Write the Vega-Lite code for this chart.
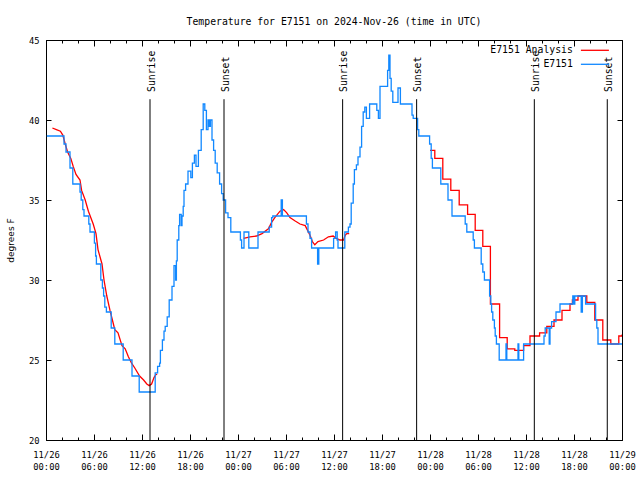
{
  "$schema": "https://vega.github.io/schema/vega-lite/v6.json",
  "width": 576,
  "height": 400,
  "autosize": {"type": "none"},
  "padding": {"left": 46, "top": 40, "right": 18, "bottom": 40},
  "background": "white",
  "title": {"text": "Temperature for E7151 on 2024-Nov-26 (time in UTC)", "font": "DejaVu Sans Mono", "fontSize": 9.8, "fontWeight": "normal", "color": "black", "anchor": "middle", "frame": "group", "offset": 1, "baseline": "alphabetic"},
  "config": {
    "view": {"stroke": "black", "strokeWidth": 1},
    "axis": {"grid": false, "domain": false, "tickColor": "black", "tickWidth": 1, "labelColor": "black", "labelFont": "DejaVu Sans Mono", "labelFontSize": 8.8, "labelFlush": false, "labelOverlap": false, "labelBound": false}
  },
  "datasets": {
    "ana": [
      {"h":0.8,"t":39.5,"seg":1},{"h":1.3,"t":39.4,"seg":1},{"h":1.8,"t":39.3,"seg":1},{"h":2.1,"t":39.06,"seg":1},{"h":2.4,"t":38.5,"seg":1},{"h":2.7,"t":38.0,"seg":1},{"h":3.1,"t":37.6,"seg":1},{"h":3.4,"t":37.1,"seg":1},{"h":3.75,"t":36.6,"seg":1},{"h":4.25,"t":36.25,"seg":1},{"h":4.45,"t":35.6,"seg":1},{"h":4.9,"t":35.0,"seg":1},{"h":5.3,"t":34.3,"seg":1},{"h":5.9,"t":33.5,"seg":1},{"h":6.25,"t":32.9,"seg":1},{"h":6.5,"t":31.9,"seg":1},{"h":7.0,"t":31.0,"seg":1},{"h":7.25,"t":30.0,"seg":1},{"h":7.6,"t":29.0,"seg":1},{"h":8.0,"t":28.1,"seg":1},{"h":8.3,"t":27.5,"seg":1},{"h":8.6,"t":26.9,"seg":1},{"h":9.0,"t":26.7,"seg":1},{"h":9.5,"t":25.9,"seg":1},{"h":9.9,"t":25.7,"seg":1},{"h":10.3,"t":25.2,"seg":1},{"h":10.7,"t":24.8,"seg":1},{"h":11.1,"t":24.5,"seg":1},{"h":11.7,"t":24.0,"seg":1},{"h":12.2,"t":23.75,"seg":1},{"h":12.6,"t":23.5,"seg":1},{"h":12.9,"t":23.4,"seg":1},{"h":13.2,"t":23.5,"seg":1},{"h":13.5,"t":23.9,"seg":1},{"h":13.75,"t":24.1,"seg":1},{"h":13.9,"t":24.1,"seg":1},
      {"h":24.7,"t":32.6,"seg":2},{"h":25.5,"t":32.7,"seg":2},{"h":26.3,"t":32.75,"seg":2},{"h":27.0,"t":32.9,"seg":2},{"h":27.8,"t":33.2,"seg":2},{"h":28.2,"t":33.6,"seg":2},{"h":28.6,"t":33.9,"seg":2},{"h":29.25,"t":34.3,"seg":2},{"h":29.7,"t":34.4,"seg":2},{"h":30.1,"t":34.2,"seg":2},{"h":30.5,"t":33.9,"seg":2},{"h":31.1,"t":33.7,"seg":2},{"h":31.75,"t":33.5,"seg":2},{"h":32.4,"t":33.4,"seg":2},{"h":32.7,"t":33.1,"seg":2},{"h":33.0,"t":32.8,"seg":2},{"h":33.3,"t":32.4,"seg":2},{"h":33.6,"t":32.2,"seg":2},{"h":34.0,"t":32.4,"seg":2},{"h":34.7,"t":32.5,"seg":2},{"h":35.3,"t":32.7,"seg":2},{"h":35.9,"t":32.75,"seg":2},{"h":36.3,"t":32.6,"seg":2},{"h":36.75,"t":32.5,"seg":2},{"h":37.2,"t":32.5,"seg":2},{"h":37.4,"t":32.8,"seg":2},{"h":37.6,"t":32.9,"seg":2},{"h":37.9,"t":32.9,"seg":2},
      {"h":48.0,"t":38.1,"seg":3},{"h":48.6,"t":37.6,"seg":3},{"h":49.6,"t":36.3,"seg":3},{"h":50.6,"t":35.6,"seg":3},{"h":51.65,"t":34.7,"seg":3},{"h":52.7,"t":34.1,"seg":3},{"h":53.65,"t":33.1,"seg":3},{"h":54.6,"t":32.1,"seg":3},{"h":55.55,"t":28.5,"seg":3},{"h":56.7,"t":26.4,"seg":3},{"h":57.65,"t":25.7,"seg":3},{"h":58.6,"t":25.6,"seg":3},{"h":59.7,"t":25.9,"seg":3},{"h":60.5,"t":26.5,"seg":3},{"h":61.7,"t":26.7,"seg":3},{"h":62.6,"t":27.1,"seg":3},{"h":63.5,"t":27.5,"seg":3},{"h":64.5,"t":28.1,"seg":3},{"h":65.5,"t":28.5,"seg":3},{"h":65.8,"t":28.75,"seg":3},{"h":66.5,"t":29.0,"seg":3},{"h":67.6,"t":28.6,"seg":3},{"h":68.6,"t":27.5,"seg":3},{"h":69.6,"t":26.25,"seg":3},{"h":70.6,"t":26.0,"seg":3},{"h":71.6,"t":26.5,"seg":3},{"h":72,"t":26.6,"seg":3}
    ],
    "obs": [
      {"h":0.1,"t":39},{"h":2.25,"t":38.5},{"h":2.5,"t":38},{"h":3.0,"t":37},{"h":3.35,"t":36},{"h":4.25,"t":35.5},{"h":4.4,"t":35},{"h":4.6,"t":34.4},{"h":4.75,"t":34},{"h":5.35,"t":33.5},{"h":5.5,"t":33},{"h":6.05,"t":32.3},{"h":6.2,"t":31.5},{"h":6.3,"t":31},{"h":6.85,"t":30},{"h":7.05,"t":29.5},{"h":7.2,"t":29},{"h":7.35,"t":28.3},{"h":7.55,"t":28},{"h":8.15,"t":27},{"h":8.6,"t":26},{"h":9.65,"t":25},{"h":10.75,"t":24},{"h":11.65,"t":23},
      {"h":13.65,"t":24.2},{"h":13.95,"t":24.6},{"h":14.2,"t":24.8},{"h":14.3,"t":25.6},{"h":14.55,"t":26.25},{"h":14.75,"t":26.8},{"h":14.9,"t":27.1},{"h":15.15,"t":27.7},{"h":15.4,"t":28.75},{"h":15.75,"t":29.6},{"h":16.0,"t":30.9},{"h":16.2,"t":30.0},{"h":16.3,"t":31.2},{"h":16.4,"t":32.5},{"h":16.6,"t":33.4},{"h":16.7,"t":34.1},{"h":16.9,"t":33.4},{"h":17.0,"t":34.0},{"h":17.15,"t":34.6},{"h":17.25,"t":35.6},{"h":17.45,"t":36},{"h":17.75,"t":36.8},{"h":18.1,"t":36.4},{"h":18.3,"t":37.3},{"h":18.55,"t":37.8},{"h":18.75,"t":37.1},{"h":19.05,"t":38.1},{"h":19.4,"t":39.4},{"h":19.65,"t":41.0},{"h":19.85,"t":40.6},{"h":20.05,"t":39.4},{"h":20.25,"t":40},{"h":20.4,"t":39.6},{"h":20.55,"t":40},{"h":20.75,"t":38.75},{"h":20.95,"t":38.1},{"h":21.15,"t":37.3},{"h":21.4,"t":36.7},{"h":21.7,"t":36.0},{"h":21.95,"t":35.4},{"h":22.15,"t":35.0},{"h":22.45,"t":34.2},{"h":22.75,"t":33.9},{"h":23.1,"t":33},
      {"h":24.3,"t":32.5},{"h":24.45,"t":32},{"h":24.75,"t":33},{"h":25.35,"t":32},{"h":26.5,"t":33},{"h":27.9,"t":33.3},{"h":28.2,"t":33.9},{"h":28.35,"t":34},{"h":29.4,"t":35},{"h":29.55,"t":34},{"h":32.55,"t":33.5},{"h":32.75,"t":33},{"h":33.0,"t":32.6},{"h":33.2,"t":32},{"h":33.95,"t":31},{"h":34.1,"t":32},{"h":35.95,"t":32.6},{"h":36.2,"t":33},{"h":36.4,"t":32.5},{"h":36.5,"t":32},{"h":37.35,"t":33},{"h":37.8,"t":33.3},{"h":38.0,"t":33.5},{"h":38.15,"t":34.8},{"h":38.4,"t":36.0},{"h":38.55,"t":36.9},{"h":38.8,"t":37.2},{"h":39.0,"t":37.7},{"h":39.25,"t":38.3},{"h":39.45,"t":39.6},{"h":39.65,"t":40.5},{"h":39.85,"t":40.8},{"h":40.05,"t":40.1},{"h":40.45,"t":41.0},{"h":41.35,"t":40.6},{"h":41.55,"t":40.1},{"h":41.75,"t":42.1},{"h":42.7,"t":43.1},{"h":42.85,"t":44.06},{"h":43.0,"t":42.6},{"h":43.15,"t":41.8},{"h":43.35,"t":41.1},{"h":44.0,"t":42},{"h":44.3,"t":41},{"h":45.75,"t":40.3},{"h":45.9,"t":40.1},{"h":46.45,"t":39.4},{"h":46.6,"t":39},{"h":47.95,"t":38.5},{"h":48.15,"t":37.6},{"h":48.3,"t":37},{"h":49.35,"t":36},{"h":50.25,"t":35},{"h":50.75,"t":34},{"h":52.4,"t":33.5},{"h":52.6,"t":33},{"h":53.4,"t":32.5},{"h":53.55,"t":32},{"h":54.4,"t":31},{"h":54.6,"t":30.5},{"h":54.8,"t":30},{"h":55.45,"t":29},{"h":55.6,"t":28.5},{"h":55.7,"t":28},{"h":55.85,"t":27.5},{"h":56.05,"t":27},{"h":56.15,"t":26.5},{"h":56.3,"t":26},{"h":56.65,"t":25},{"h":57.5,"t":26},{"h":57.6,"t":25},{"h":59.0,"t":26},{"h":59.1,"t":25},{"h":59.7,"t":26},{"h":62.25,"t":26.5},{"h":62.4,"t":27},{"h":62.9,"t":26},{"h":63.0,"t":27},{"h":63.2,"t":27.4},{"h":63.75,"t":28},{"h":64.25,"t":28.5},{"h":65.85,"t":29},{"h":66.0,"t":28.5},{"h":66.1,"t":29},{"h":66.9,"t":28},{"h":67.05,"t":29},{"h":67.45,"t":28.5},{"h":68.7,"t":27.5},{"h":68.85,"t":27},{"h":69.0,"t":26},{"h":72,"t":26}
    ],
    "sun": [
      {"h":13.0,"label":"Sunrise"},{"h":22.25,"label":"Sunset"},{"h":37.08,"label":"Sunrise"},{"h":46.33,"label":"Sunset"},{"h":61.04,"label":"Sunrise"},{"h":70.16,"label":"Sunset"}
    ]
  },
  "layer": [
    {
      "data": {"name": "ana"},
      "transform": [{"filter": "datum.seg < 3"}],
      "mark": {"type": "line", "interpolate": "linear", "strokeWidth": 1.3, "clip": true},
      "encoding": {
        "x": {"field": "h", "type": "quantitative", "scale": {"domain": [0, 72], "nice": false, "zero": false},
          "axis": {"orient": "bottom", "values": [0,6,12,18,24,30,36,42,48,54,60,66,72], "ticks": false, "labelPadding": 10.5, "labelLineHeight": 12, "labelBaseline": "top",
            "labelExpr": "['11/' + (26 + floor(datum.value / 24)), ((datum.value % 24) < 10 ? '0' : '') + (datum.value % 24) + ':00']", "title": null}},
        "y": {"field": "t", "type": "quantitative", "scale": {"domain": [20, 45], "nice": false, "zero": false},
          "axis": {"orient": "left", "values": [20,25,30,35,40,45], "ticks": false, "labelPadding": 7, "title": "degrees F", "titleFont": "DejaVu Sans", "titleFontSize": 9, "titleFontWeight": "normal", "titleColor": "black", "titlePadding": 13}},
        "detail": {"field": "seg", "type": "nominal"},
        "color": {"datum": "E7151 Analysis", "type": "nominal",
          "scale": {"domain": ["E7151 Analysis", "E7151"], "range": ["#ff0000", "#1188ff"]},
          "legend": {"orient": "none", "legendX": 544, "legendY": 5.4, "title": null, "symbolType": "M-4,0H4", "symbolSize": 49, "symbolStrokeWidth": 1.3, "labelAlign": "right", "labelOffset": -26.9, "labelFont": "DejaVu Sans Mono", "labelFontSize": 9.8, "labelColor": "black", "padding": 0, "rowPadding": 3, "symbolOffset": 0, "labelLimit": 300}}
      }
    },
    {
      "data": {"name": "ana"},
      "transform": [{"filter": "datum.seg == 3"}],
      "mark": {"type": "line", "interpolate": "step-after", "strokeWidth": 1.3, "clip": true},
      "encoding": {
        "x": {"field": "h", "type": "quantitative", "axis": {"orient": "bottom", "values": [0,2,4,6,8,10,12,14,16,18,20,22,24,26,28,30,32,34,36,38,40,42,44,46,48,50,52,54,56,58,60,62,64,66,68,70,72], "tickSize": -3, "labels": false, "title": null}},
        "y": {"field": "t", "type": "quantitative", "axis": {"orient": "right", "values": [20,25,30,35,40,45], "tickSize": -5, "labels": false, "title": null}},
        "color": {"datum": "E7151 Analysis", "type": "nominal"}
      }
    },
    {
      "data": {"name": "obs"},
      "mark": {"type": "line", "interpolate": "step-after", "strokeWidth": 1.3, "clip": true},
      "encoding": {
        "x": {"field": "h", "type": "quantitative", "axis": {"orient": "top", "values": [0,2,4,6,8,10,12,14,16,18,20,22,24,26,28,30,32,34,36,38,40,42,44,46,48,50,52,54,56,58,60,62,64,66,68,70,72], "tickSize": -3, "labels": false, "title": null}},
        "y": {"field": "t", "type": "quantitative", "axis": {"orient": "left", "values": [20,25,30,35,40,45], "tickSize": -5, "labels": false, "title": null}},
        "color": {"datum": "E7151", "type": "nominal"}
      }
    },
    {
      "data": {"name": "sun"},
      "mark": {"type": "rule", "color": "black", "strokeWidth": 1},
      "encoding": {
        "x": {"field": "h", "type": "quantitative", "axis": {"orient": "bottom", "values": [0,6,12,18,24,30,36,42,48,54,60,66,72], "tickSize": -6, "labels": false, "title": null}},
        "y": {"datum": 20, "type": "quantitative", "axis": null},
        "y2": {"datum": 41.3}
      }
    },
    {
      "data": {"name": "sun"},
      "mark": {"type": "text", "angle": 270, "align": "left", "baseline": "middle", "font": "DejaVu Sans Mono", "fontSize": 9.8, "color": "black", "dy": 1.5},
      "encoding": {
        "x": {"field": "h", "type": "quantitative", "axis": {"orient": "top", "values": [0,6,12,18,24,30,36,42,48,54,60,66,72], "tickSize": -6, "labels": false, "title": null}},
        "y": {"datum": 41.75, "type": "quantitative", "axis": null},
        "text": {"field": "label"}
      }
    }
  ],
  "resolve": {"axis": {"x": "independent", "y": "independent"}}
}
